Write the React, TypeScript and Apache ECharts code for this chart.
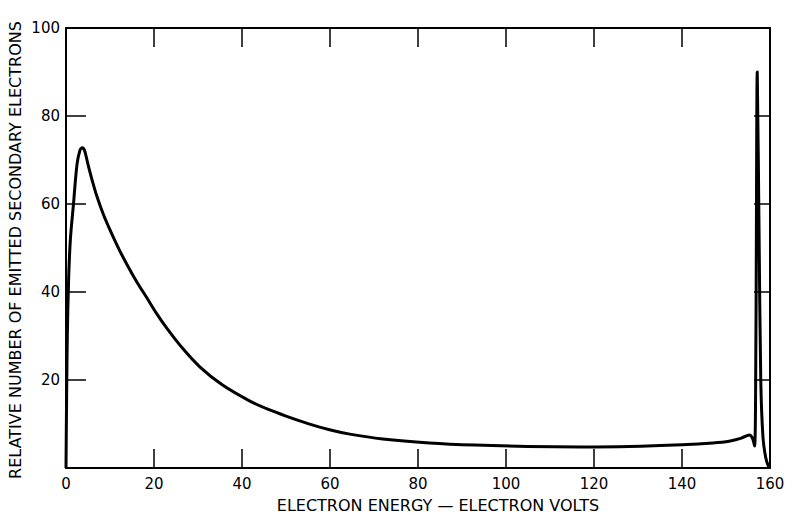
import React, { useEffect, useRef } from "react";
import * as echarts from "echarts";

const energy = [0, 0.1, 0.3, 0.6, 1.0, 1.7, 2.5, 3.2, 3.7, 4.2, 5.0, 6.0, 7.0, 8.5, 10.0, 12.0, 14.1, 16.2, 18.3, 20.6, 22.9, 26.5, 30.4, 35.5, 41.8, 46, 50, 55, 59.9, 64.5, 72, 82.6, 93, 105, 117, 128, 140, 147, 150.7, 153.5, 155.3, 156.0, 156.5, 156.8, 157.1, 157.5, 157.9, 158.4, 159.0, 159.6, 160];
const counts = [0, 12, 30, 43, 52, 60, 69, 72.3, 72.8, 72.2, 69, 65.2, 61.8, 57.6, 54.1, 49.8, 45.8, 42.1, 38.8, 35.1, 31.8, 27.2, 23.0, 18.9, 15.2, 13.3, 11.8, 10.1, 8.7, 7.7, 6.6, 5.7, 5.2, 4.9, 4.8, 4.9, 5.3, 5.7, 6.1, 6.8, 7.5, 6.8, 5.0, 30, 90, 55, 20, 7, 2.5, 0.5, 0];

const xTitle = "ELECTRON ENERGY — ELECTRON VOLTS";
const yTitle = "RELATIVE NUMBER OF EMITTED SECONDARY ELECTRONS";

const FONT = "DejaVu Sans";

export default function App() {
  const ref = useRef<HTMLDivElement>(null);
  useEffect(() => {
    const chart = echarts.init(ref.current!, undefined, { renderer: "svg" });
    const data = energy.map((e, i) => [e, counts[i]]);
    const line = { show: true, onZero: false, lineStyle: { color: "#000", width: 2 } };
    chart.setOption({
      animation: false,
      backgroundColor: "#fff",
      grid: { left: 66, top: 28, right: 23, bottom: 47 },
      xAxis: [
        {
          type: "value", min: 0, max: 160, interval: 20, position: "bottom",
          axisLine: line,
          axisTick: { show: true, inside: true, length: 19, lineStyle: { color: "#000", width: 1.5 } },
          axisLabel: { color: "#000", fontSize: 15, fontFamily: FONT, margin: 8 },
          splitLine: { show: false },
        },
        {
          type: "value", min: 0, max: 160, interval: 20, position: "top",
          axisLine: line,
          axisTick: { show: true, inside: true, length: 19, lineStyle: { color: "#000", width: 1.5 } },
          axisLabel: { show: false },
          splitLine: { show: false },
        },
      ],
      yAxis: [
        {
          type: "value", min: 0, max: 100, interval: 20, position: "left",
          axisLine: line,
          axisTick: { show: true, inside: true, length: 20, lineStyle: { color: "#000", width: 1.5 } },
          axisLabel: {
            color: "#000", fontSize: 15, fontFamily: FONT, margin: 6,
            formatter: (v: number) => (v === 0 ? "" : String(v)),
          },
          splitLine: { show: false },
        },
        {
          type: "value", min: 0, max: 100, interval: 20, position: "right",
          axisLine: line,
          axisTick: { show: true, inside: true, length: 16, lineStyle: { color: "#000", width: 1.5 } },
          axisLabel: { show: false },
          splitLine: { show: false },
        },
      ],
      graphic: [
        {
          type: "text", x: 438, y: 505,
          style: { text: xTitle, fill: "#000", font: `16px "${FONT}"`, align: "center", verticalAlign: "middle" },
        },
        {
          type: "text", x: 15, y: 250, rotation: Math.PI / 2,
          style: { text: yTitle, fill: "#000", font: `16px "${FONT}"`, align: "center", verticalAlign: "middle" },
        },
      ],
      series: [
        {
          type: "line", xAxisIndex: 0, yAxisIndex: 0, data,
          showSymbol: false, symbol: "none",
          smooth: 0.3,
          lineStyle: { color: "#000", width: 3, join: "round" },
        },
      ],
    });
    return () => chart.dispose();
  }, []);
  return <div ref={ref} style={{ width: 793, height: 515, position: "absolute", left: 0, top: 0 }} />;
}
